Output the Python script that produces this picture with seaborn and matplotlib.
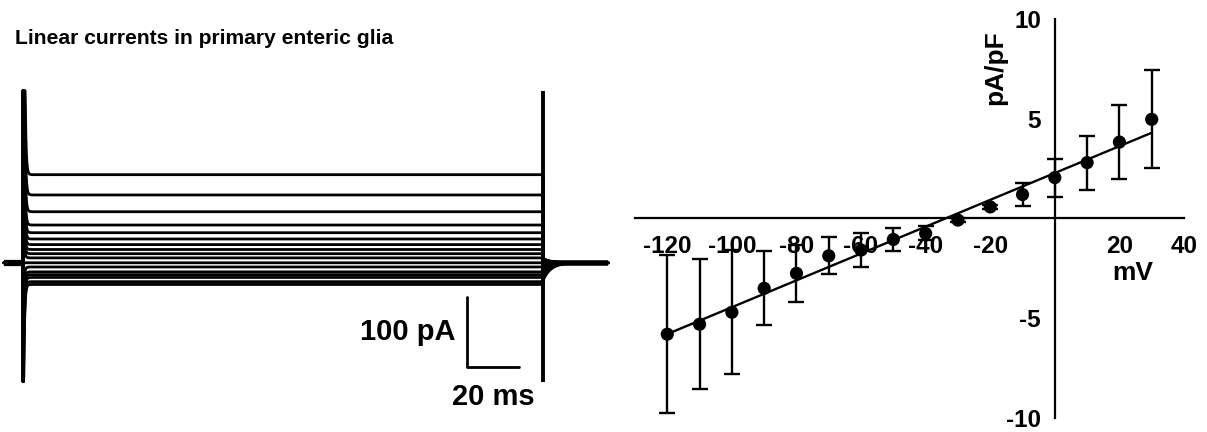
import numpy as np
import pandas as pd
import seaborn as sns
import matplotlib
matplotlib.use('Agg')
import matplotlib.pyplot as plt

# steady-state current of each sweep (pA)
sweep_levels = [126, 97, 73, 54, 43, 34, 26, 19, 13, 7, 0, -6, -13, -17, -21, -27, -31]
pulse_ms = 200

# I-V summary (mean +/- SEM)
voltage = [-120, -110, -100, -90, -80, -70, -60, -50, -40, -30, -20, -10, 0, 10, 20, 30]
density = [-5.8, -5.3, -4.7, -3.5, -2.75, -1.87, -1.58, -1.05, -0.75, -0.08,
           0.58, 1.2, 2.05, 2.8, 3.83, 4.97]
sem = [3.95, 3.25, 3.1, 1.85, 1.42, 0.93, 0.83, 0.57, 0.35, 0.1,
       0.1, 0.57, 0.95, 1.36, 1.87, 2.45]

xticks = [-120, -100, -80, -60, -40, -20, 20, 40]
yticks = [-10, -5, 5, 10]

sns.set_style('white')
plt.rcParams['font.family'] = ['Liberation Sans', 'DejaVu Sans']
plt.rcParams['font.weight'] = 'bold'
plt.rcParams['text.color'] = 'black'

fig = plt.figure(figsize=(12.07, 4.32), dpi=100)

# ---- left: current traces ----
clip_lo, clip_hi = -170, 246
t_on = np.linspace(0, pulse_ms, 2001)
t_off = np.linspace(pulse_ms, 225, 301)
frames = []
for k, lvl in enumerate(sweep_levels):
    on = lvl + 10 * lvl * np.exp(-t_on / 0.35)
    off = -0.2 * lvl * np.exp(-(t_off - pulse_ms) / 3)
    t = np.concatenate([[-7.3, 0], t_on, t_off])
    cur = np.clip(np.concatenate([[0, 0], on, off]), clip_lo, clip_hi)
    frames.append(pd.DataFrame({'time': t, 'current': cur, 'sweep': k}))
traces = pd.concat(frames, ignore_index=True)

axL = fig.add_axes([0, 0, 620 / 1207, 372 / 432])
sns.lineplot(data=traces, x='time', y='current', units='sweep', estimator=None,
             color='black', lw=2.0, sort=False, ax=axL, legend=False)
axL.vlines([0, pulse_ms], clip_lo, clip_hi, color='black', lw=2.8)
axL.hlines(0, -7.3, 0, color='black', lw=4.5)
axL.hlines(0, pulse_ms + 4, 225, color='black', lw=4)

# scale bar: 100 pA / 20 ms
sb_t, sb_i = 170.8, -148.7
axL.plot([sb_t, sb_t, sb_t + 20], [sb_i + 100, sb_i, sb_i], color='black', lw=2)
axL.text(sb_t - 4.6, sb_i + 50, '100 pA', ha='right', va='center', fontsize=21, fontweight='bold')
axL.text(sb_t + 10, sb_i - 43, '20 ms', ha='center', va='center', fontsize=21, fontweight='bold')

axL.set_xlim(-8.85, 229.6)
axL.set_ylim(-242, 290)
axL.axis('off')

fig.text(15 / 1207, 1 - 38 / 432, 'Linear currents in primary enteric glia',
         ha='left', va='center', fontsize=15.2, fontweight='bold', color='black')

# ---- right: I-V relationship ----
axR = fig.add_axes([635 / 1207, 1 - 418 / 432, 549 / 1207, 399 / 432])
axR.errorbar(voltage, density, yerr=sem, fmt='none', ecolor='black',
             elinewidth=1.7, capsize=5.5, capthick=1.7)
sns.scatterplot(x=voltage, y=density, color='black', s=90, edgecolor='none', ax=axR, zorder=3)
sns.regplot(x=voltage, y=density, scatter=False, ci=None, truncate=True,
            line_kws=dict(color='black', lw=1.7), ax=axR)

axR.set_xlim(-130, 40)
axR.set_ylim(-10, 10)
for s in ['top', 'right']:
    axR.spines[s].set_visible(False)
for s in ['left', 'bottom']:
    axR.spines[s].set_position(('data', 0))
    axR.spines[s].set_linewidth(1.6)
    axR.spines[s].set_color('black')
axR.set_xticks(xticks)
axR.set_yticks(yticks)
axR.set_xticklabels([str(v) for v in xticks])
axR.set_yticklabels([str(v) for v in yticks])
axR.tick_params(direction='out', length=7, width=1.6, labelsize=17.5, colors='black', pad=3)
axR.tick_params(axis='x', pad=5)
axR.set_xlabel('')
axR.set_ylabel('')
axR.patch.set_alpha(0)

fig.text(995 / 1207, 1 - 68 / 432, 'pA/pF', rotation=90, ha='center', va='center',
         fontsize=19, fontweight='bold', color='black')
fig.text(1133 / 1207, 1 - 273 / 432, 'mV', ha='center', va='center',
         fontsize=19, fontweight='bold', color='black')

fig.savefig('out.png', dpi=100, facecolor='white')
